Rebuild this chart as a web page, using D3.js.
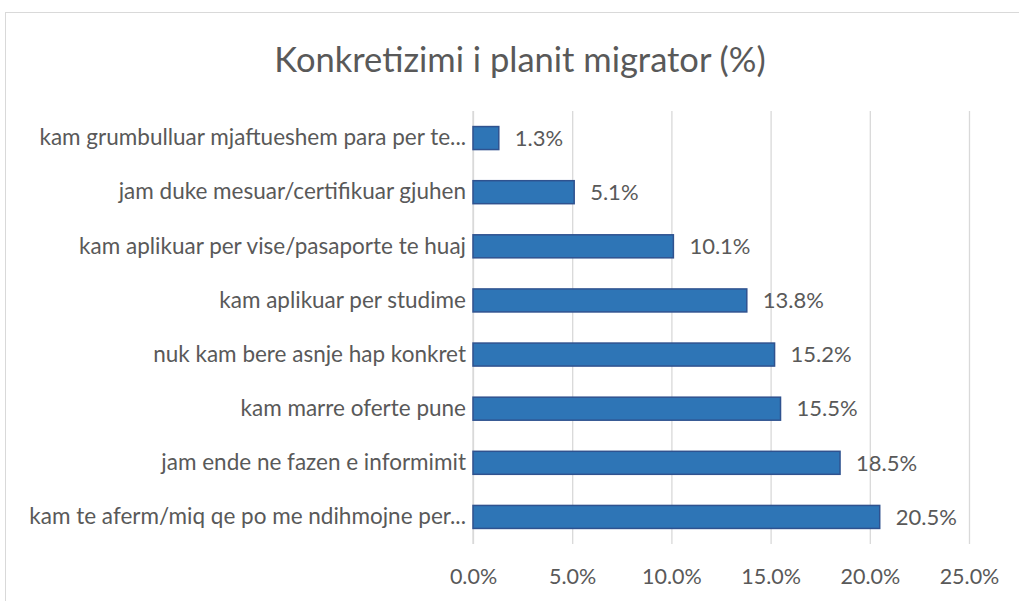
<!DOCTYPE html>
<html>
<head>
<meta charset="utf-8">
<script src="https://cdn.jsdelivr.net/npm/d3@7"></script>
<style>
  body { margin: 0; background: #fff; }
  text { font-family: Lato, "Open Sans", sans-serif; fill: #595959; }
</style>
</head>
<body>
<svg width="1019" height="601"></svg>
<script>
const categories = [
  'kam grumbulluar mjaftueshem para per te...',
  'jam duke mesuar/certifikuar gjuhen',
  'kam aplikuar per vise/pasaporte te huaj',
  'kam aplikuar per studime',
  'nuk kam bere asnje hap konkret',
  'kam marre oferte pune',
  'jam ende ne fazen e informimit',
  'kam te aferm/miq qe po me ndihmojne per...'
];
const values = [1.3, 5.1, 10.1, 13.8, 15.2, 15.5, 18.5, 20.5];
const ticks = [0, 5, 10, 15, 20, 25];

const svg = d3.select('svg');

// chart frame
svg.append('rect')
  .attr('x', 5.5).attr('y', 12.5)
  .attr('width', 1100).attr('height', 700)
  .attr('fill', 'none')
  .attr('stroke', '#d9d9d9');

svg.append('text')
  .attr('x', 520).attr('y', 72)
  .attr('text-anchor', 'middle')
  .style('font-size', '34.5px')
  .text('Konkretizimi i planit migrator (%)');

const x = d3.scaleLinear().domain([0, 25]).range([473, 969]);
const y = d3.scaleBand().domain(categories).range([111, 544]).paddingInner(0.575).paddingOuter(0.2875);

// gridlines
svg.append('g')
  .attr('transform', 'translate(0,544)')
  .call(d3.axisBottom(x).tickValues(ticks).tickSize(-433).tickFormat(''))
  .call(g => g.select('.domain').remove())
  .call(g => g.selectAll('line').attr('stroke', '#d9d9d9').attr('stroke-width', 1.3));

// x tick labels
svg.append('g')
  .attr('transform', 'translate(0,544)')
  .call(d3.axisBottom(x).tickValues(ticks).tickSize(0).tickPadding(25).tickFormat(d => d.toFixed(1) + '%'))
  .call(g => g.select('.domain').remove())
  .call(g => g.selectAll('text').style('font-size', '21.5px').attr('fill', '#595959'));

// y labels
svg.append('g')
  .attr('transform', 'translate(473,0)')
  .call(d3.axisLeft(y).tickSize(0).tickPadding(7))
  .call(g => g.select('.domain').remove())
  .call(g => g.selectAll('text').style('font-size', '22.5px').attr('fill', '#595959'));

// axis line at 0
svg.append('line')
  .attr('x1', x(0)).attr('x2', x(0))
  .attr('y1', 111).attr('y2', 544)
  .attr('stroke', '#d9d9d9').attr('stroke-width', 1.3);

svg.selectAll('.bar')
  .data(values)
  .enter()
  .append('rect')
  .attr('class', 'bar')
  .attr('x', x(0))
  .attr('y', (d, i) => y(categories[i]))
  .attr('width', d => x(d) - x(0))
  .attr('height', y.bandwidth())
  .attr('fill', '#2e75b6')
  .attr('stroke', '#2f528f')
  .attr('stroke-width', 1.5);

svg.selectAll('.val')
  .data(values)
  .enter()
  .append('text')
  .attr('class', 'val')
  .attr('x', d => x(d) + 16)
  .attr('y', (d, i) => y(categories[i]) + y.bandwidth() / 2)
  .attr('dy', '0.35em')
  .style('font-size', '22px')
  .text(d => d.toFixed(1) + '%');
</script>
</body>
</html>
